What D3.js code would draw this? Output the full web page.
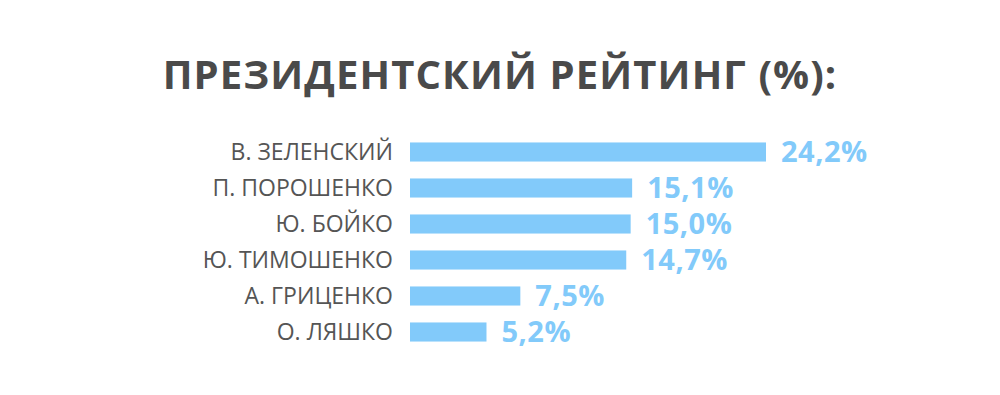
<!DOCTYPE html>
<html>
<head>
<meta charset="utf-8">
<script src="https://cdn.jsdelivr.net/npm/d3@7"></script>
<style>
  body { margin: 0; background: #fff; }
  svg { display: block; }
</style>
</head>
<body>
<div id="chart"></div>
<script>
var title = "ПРЕЗИДЕНТСКИЙ РЕЙТИНГ (%):";
var candidates = ["В. ЗЕЛЕНСКИЙ", "П. ПОРОШЕНКО", "Ю. БОЙКО", "Ю. ТИМОШЕНКО", "А. ГРИЦЕНКО", "О. ЛЯШКО"];
var ratings = [24.2, 15.1, 15.0, 14.7, 7.5, 5.2];

var width = 1000,
    height = 395;

var svg = d3.select("#chart").append("svg")
    .attr("width", width)
    .attr("height", height);

svg.append("text")
    .attr("x", 500)
    .attr("y", 89)
    .attr("text-anchor", "middle")
    .style("font-family", "'Open Sans'")
    .style("font-weight", "bold")
    .style("font-size", "40px")
    .style("letter-spacing", "1.1px")
    .style("fill", "#4a4a4a")
    .text(title);

var x = d3.scaleLinear()
    .domain([0, 24.2])
    .range([410, 766]);

var y = d3.scaleBand()
    .domain(candidates)
    .range([134, 350])
    .paddingInner(0.47)
    .paddingOuter(0.235);

var rows = svg.selectAll("g.row")
    .data(candidates)
  .enter().append("g")
    .attr("class", "row");

rows.append("rect")
    .attr("x", x(0))
    .attr("y", function(d) { return y(d); })
    .attr("width", function(d, i) { return x(ratings[i]) - x(0); })
    .attr("height", y.bandwidth())
    .style("fill", "#82cafa");

rows.append("text")
    .attr("x", 393)
    .attr("y", function(d) { return y(d) + y.bandwidth() / 2 + 8; })
    .attr("text-anchor", "end")
    .style("font-family", "'Open Sans'")
    .style("font-size", "23px")
    .style("fill", "#555")
    .text(function(d) { return d; });

rows.append("text")
    .attr("x", function(d, i) { return x(ratings[i]) + 15; })
    .attr("y", function(d) { return y(d) + y.bandwidth() / 2 + 10; })
    .style("font-family", "'Open Sans'")
    .style("font-weight", "bold")
    .style("font-size", "29px")
    .style("letter-spacing", "0.5px")
    .style("fill", "#82cafa")
    .text(function(d, i) { return String(ratings[i].toFixed(1)).replace(".", ",") + "%"; });
</script>
</body>
</html>
